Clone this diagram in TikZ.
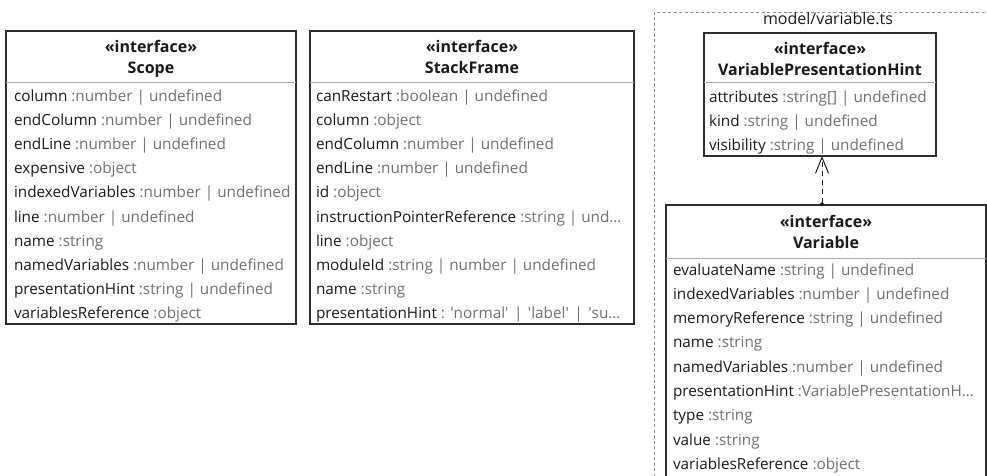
\documentclass[tikz,border=0pt]{standalone}
\usepackage{fontspec}
\setmainfont{Open Sans}
\usetikzlibrary{arrows.meta}

\definecolor{ink}{HTML}{1A1A1A}
\definecolor{typegray}{HTML}{707070}
\definecolor{frame}{HTML}{2E2E2E}
\definecolor{rulegray}{HTML}{A8A8A8}
\definecolor{pkggray}{HTML}{8C8C8C}

% member row: black name, grey type
\newcommand\fld[2]{{\color{ink}#1} {\color{typegray}:#2}}
\newcommand\sq{\textquotesingle}
\newcommand\barsep{\hspace{5.5pt}|\hspace{5.5pt}}

\begin{document}
\begin{tikzpicture}[x=1pt,y=-1pt,
  every node/.style={inner sep=0pt, outer sep=0pt, font=\fontsize{15.3}{18}\selectfont},
  classbox/.style={draw=frame, line width=1.3pt, fill=white, anchor=north west},
  headtext/.style={anchor=base, text=ink, font=\fontsize{16}{18}\selectfont\bfseries},
  member/.style={anchor=base west},
  seprule/.style={draw=rulegray, line width=0.9pt},
  package/.style={draw=pkggray, line width=0.8pt, dash pattern=on 3pt off 2.5pt},
  dep/.style={draw=ink, line width=1pt, dash pattern=on 5pt off 4pt,
    {Triangle[reversed,length=3pt,width=6pt]}-{Straight Barb[length=16pt,width=13pt,line width=1pt]}},
]
\useasboundingbox (0,0) rectangle (987,475);
\clip (0,0) rectangle (987,475);

% package frame of model/variable.ts
\node[package, anchor=north west, minimum width=358, minimum height=500] (pkg) at (654,12) {};
\node[anchor=base, text=ink, font=\fontsize{16}{18}\selectfont] (pkgtitle) at (828,24) {model/variable.ts};

% ---- Scope ----
\node[classbox, minimum width=290, minimum height=293] (scope) at (6,31) {};
\node[headtext] (scope-st) at (151,52) {«interface»};
\node[headtext] (scope-nm) at (151,73) {Scope};
\draw[seprule] (scope.west |- 0,82) -- (scope.east |- 0,82);
\foreach [count=\i from 0] \n/\t in {
  column/number | undefined,
  endColumn/number | undefined,
  endLine/number | undefined,
  expensive/object,
  indexedVariables/number | undefined,
  line/number | undefined,
  name/string,
  namedVariables/number | undefined,
  presentationHint/string | undefined,
  variablesReference/object}
  \node[member] (scope-m\i) at (14,101+24.2*\i) {\fld{\n}{\t}};

% ---- StackFrame ----
\node[classbox, minimum width=324, minimum height=293] (frame) at (310,31) {};
\node[headtext] (frame-st) at (472,52) {«interface»};
\node[headtext] (frame-nm) at (472,73) {StackFrame};
\draw[seprule] (frame.west |- 0,82) -- (frame.east |- 0,82);
\foreach [count=\i from 0] \n/\t in {
  canRestart/boolean | undefined,
  column/object,
  endColumn/number | undefined,
  endLine/number | undefined,
  id/object,
  instructionPointerReference/string | und…,
  line/object,
  moduleId/string | number | undefined,
  name/string}
  \node[member] (frame-m\i) at (316,101+24.2*\i) {\fld{\n}{\t}};
\node[member] (frame-m9) at (316,101+24.2*9)
  {{\color{ink}presentationHint} {\color{typegray}: \sq normal\sq\barsep\sq label\sq\barsep\sq su…}};

% ---- VariablePresentationHint ----
\node[classbox, minimum width=232, minimum height=123] (vph) at (704,33) {};
\node[headtext] (vph-st) at (820,54) {«interface»};
\node[headtext] (vph-nm) at (820,75) {VariablePresentationHint};
\draw[seprule] (vph.west |- 0,82) -- (vph.east |- 0,82);
\foreach [count=\i from 0] \n/\t in {
  attributes/string[] | undefined,
  kind/string | undefined,
  visibility/string | undefined}
  \node[member] (vph-m\i) at (709,102+24.3*\i) {\fld{\n}{\t}};

% ---- Variable ----
\node[classbox, minimum width=320, minimum height=290] (var) at (666,205) {};
\node[headtext] (var-st) at (826,227) {«interface»};
\node[headtext] (var-nm) at (826,248) {Variable};
\draw[seprule] (var.west |- 0,258) -- (var.east |- 0,258);
\foreach [count=\i from 0] \n/\t in {
  evaluateName/string | undefined,
  indexedVariables/number | undefined,
  memoryReference/string | undefined,
  name/string,
  namedVariables/number | undefined,
  presentationHint/VariablePresentationH…,
  type/string,
  value/string,
  variablesReference/object}
  \node[member] (var-m\i) at (673,275+24.3*\i) {\fld{\n}{\t}};

% dependency Variable -> VariablePresentationHint
\draw[dep] ([xshift=2pt]var.north -| vph.south) -- ([xshift=2pt]vph.south);
\end{tikzpicture}
\end{document}
